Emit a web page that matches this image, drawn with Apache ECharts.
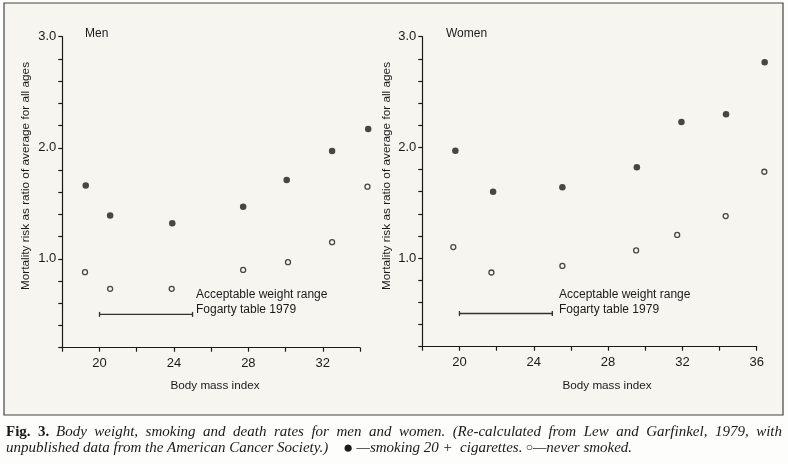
<!DOCTYPE html>
<html><head><meta charset="utf-8">
<script src="https://cdn.jsdelivr.net/npm/echarts@6/dist/echarts.min.js"></script>
<style>html,body{margin:0;padding:0;background:#fdfdfb}#c{width:788px;height:464px}</style>
</head><body><div id="c"></div>
<script>
// Men
const menSmokeX = [19.26, 20.57, 23.91, 27.72, 30.06, 32.5, 34.44];
const menSmokeY = [1.66, 1.39, 1.32, 1.47, 1.71, 1.97, 2.17];
const menNeverX = [19.22, 20.57, 23.88, 27.72, 30.13, 32.5, 34.4];
const menNeverY = [0.88, 0.73, 0.73, 0.90, 0.97, 1.15, 1.65];
// Women
const womenSmokeX = [19.78, 21.81, 25.54, 29.55, 31.95, 34.35, 36.43];
const womenSmokeY = [1.97, 1.60, 1.64, 1.82, 2.23, 2.30, 2.77];
const womenNeverX = [19.67, 21.72, 25.54, 29.51, 31.72, 34.33, 36.41];
const womenNeverY = [1.10, 0.87, 0.93, 1.07, 1.21, 1.38, 1.78];
// Acceptable weight range (Fogarty table 1979)
const rangeX = [20, 25];
const rangeY = 0.5;
const yLabelTicks = [1.0, 2.0, 3.0];
const menXLabels = [20, 24, 28, 32];
const womenXLabels = [20, 24, 28, 32, 36];

const BG = '#f6f5f0';
const INK = '#1a1a1a';
const SANS = 'Liberation Sans, Arial, sans-serif';
const SERIF = 'Liberation Serif, Times New Roman, serif';

const zip = (xs, ys) => xs.map((x, i) => [x, ys[i]]);

function yAxis(gi) {
  return {
    type: 'value', gridIndex: gi, min: 0.2, max: 3.0, interval: 0.2,
    axisLine: {show: true, lineStyle: {color: INK, width: 1.2}},
    axisTick: {show: true, length: 4, lineStyle: {color: INK, width: 1.2}},
    splitLine: {show: false},
    axisLabel: {
      margin: 6, color: INK, fontFamily: SANS, fontSize: 13,
      formatter: v => yLabelTicks.some(t => Math.abs(t - v) < 1e-6) ? v.toFixed(1) : ''
    }
  };
}
function xAxis(gi, max, labels) {
  return {
    type: 'value', gridIndex: gi, min: 18, max: max, interval: 2,
    axisLine: {show: true, onZero: false, lineStyle: {color: INK, width: 1.2}},
    axisTick: {show: true, length: 4, lineStyle: {color: INK, width: 1.2}},
    splitLine: {show: false},
    axisLabel: {
      margin: 9, color: INK, fontFamily: SANS, fontSize: 13, showMinLabel: true, showMaxLabel: true,
      formatter: v => labels.some(t => Math.abs(t - v) < 1e-6) ? String(v) : ''
    }
  };
}
function filled(gi, data) {
  return {type: 'scatter', xAxisIndex: gi, yAxisIndex: gi, data, symbol: 'circle', symbolSize: 6.5,
    clip: false, itemStyle: {color: INK}, emphasis: {disabled: true}, silent: true};
}
function open(gi, data) {
  return {type: 'scatter', xAxisIndex: gi, yAxisIndex: gi, data, symbol: 'circle', symbolSize: 5,
    clip: false, itemStyle: {color: BG, borderColor: INK, borderWidth: 1.3}, emphasis: {disabled: true}, silent: true};
}
function rangeBar(gi) {
  return {type: 'line', xAxisIndex: gi, yAxisIndex: gi, data: rangeX.map(x => [x, rangeY]),
    symbol: 'rect', symbolSize: [1.3, 5], showSymbol: true,
    lineStyle: {color: '#333', width: 1.3}, itemStyle: {color: '#333'}, silent: true, animation: false};
}

const txt = (x, y, text, size, extra) => ({type: 'text', x, y, silent: true,
  style: Object.assign({text, fill: INK, font: size + 'px ' + SANS, textVerticalAlign: 'middle'}, extra || {})});

const line1 = 'Body weight, smoking and death rates for men and women. (Re-calculated from Lew and Garfinkel, 1979, with'.split(' ').join('  ');

const option = {
  animation: false,
  backgroundColor: '#fdfdfb',
  grid: [
    {left: 62.3, top: 36.7, width: 297.7, height: 311},
    {left: 422.3, top: 36.7, width: 334.4, height: 310}
  ],
  xAxis: [xAxis(0, 34, menXLabels), xAxis(1, 36, womenXLabels)],
  yAxis: [yAxis(0), yAxis(1)],
  series: [
    filled(0, zip(menSmokeX, menSmokeY)), open(0, zip(menNeverX, menNeverY)), rangeBar(0),
    filled(1, zip(womenSmokeX, womenSmokeY)), open(1, zip(womenNeverX, womenNeverY)), rangeBar(1)
  ],
  graphic: [
    {type: 'rect', z: -10, shape: {x: 4, y: 3, width: 779, height: 412},
      style: {fill: BG, stroke: '#444', lineWidth: 1.2}, silent: true},
    txt(85, 34, 'Men', 12),
    txt(446, 34, 'Women', 12),
    txt(196, 295, 'Acceptable weight range', 12),
    txt(196, 310, 'Fogarty table 1979', 12),
    txt(559, 295, 'Acceptable weight range', 12),
    txt(559, 310, 'Fogarty table 1979', 12),
    txt(215, 386, 'Body mass index', 11.7, {textAlign: 'center'}),
    txt(607, 386, 'Body mass index', 11.7, {textAlign: 'center'}),
    {type: 'text', x: 26, y: 176, rotation: Math.PI / 2, silent: true,
      style: {text: 'Mortality risk as ratio of average for all ages', fill: INK, font: '11.8px ' + SANS,
        textAlign: 'center', textVerticalAlign: 'middle'}},
    {type: 'text', x: 387, y: 176, rotation: Math.PI / 2, silent: true,
      style: {text: 'Mortality risk as ratio of average for all ages', fill: INK, font: '11.8px ' + SANS,
        textAlign: 'center', textVerticalAlign: 'middle'}},
    {type: 'text', x: 6, y: 432, silent: true,
      style: {text: '{b|Fig.  3.}  {i|' + line1 + '}',
        textVerticalAlign: 'middle',
        rich: {b: {font: 'bold 15px ' + SERIF, fill: INK}, i: {font: 'italic 15px ' + SERIF, fill: INK}}}},
    {type: 'text', x: 6, y: 448, silent: true,
      style: {text: '{i|unpublished data from the American Cancer Society.)}',
        textVerticalAlign: 'middle',
        rich: {i: {font: 'italic 15px ' + SERIF, fill: INK}}}},
    {type: 'text', x: 343, y: 448, silent: true,
      style: {text: '{s|●} {i|—smoking 20 +  cigarettes.} {s2|○}{i|—never smoked.}',
        textVerticalAlign: 'middle',
        rich: {i: {font: 'italic 15px ' + SERIF, fill: INK}, s: {font: '17px ' + SANS, fill: INK}, s2: {font: '12px ' + SANS, fill: INK}}}}
  ]
};
echarts.init(document.getElementById('c'), null, {renderer: 'canvas'}).setOption(option);
</script></body></html>
